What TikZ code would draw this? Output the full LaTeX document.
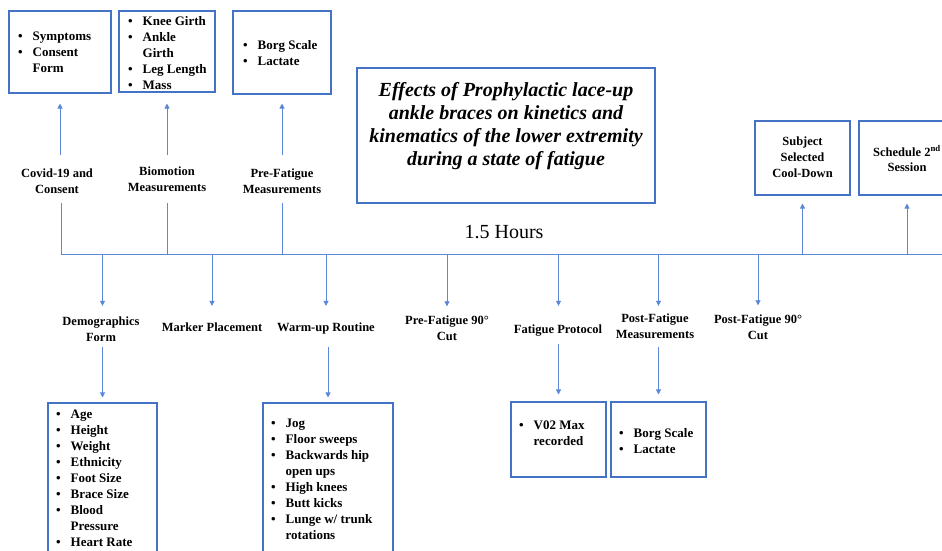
\documentclass[tikz,border=0pt]{standalone}
\usepackage{fontspec}
\setmainfont{Liberation Serif}
\usetikzlibrary{arrows.meta}
\definecolor{boxblue}{HTML}{4472C4}
\definecolor{lineblue}{HTML}{5A87D6}
\newcommand{\bul}{\makebox[14.5pt][l]{\textbullet}}
\newcommand{\ind}{\hspace*{14.5pt}}
\newcommand{\blist}[1]{\begin{tabular}{@{}l@{}}#1\end{tabular}}
\newcommand{\ctr}[1]{\begin{tabular}{@{}c@{}}#1\end{tabular}}
\begin{document}
\begin{tikzpicture}[x=1pt,y=-1pt,
  box/.style={draw=boxblue,line width=1.1pt,inner sep=0pt},
  lsty/.style={inner sep=0pt,anchor=north west,font=\fontsize{13}{16}\selectfont\bfseries},
  lbl/.style={inner sep=0pt,font=\fontsize{12.5}{16}\selectfont\bfseries},
  conn/.style={draw=lineblue,line width=0.8pt},
  arr/.style={conn,-{Triangle[width=5pt,length=5pt]}}]
\useasboundingbox (0,0) rectangle (942,550);
\clip (0,0) rectangle (942,550);
\fill[white] (0,0) rectangle (942,550);

% timeline ends
\coordinate (tlL) at (61,254);
\coordinate (tlR) at (960,254);

% top boxes
\node[box,minimum width=102pt,minimum height=82pt] (b1) at (60,52) {};
\node[lsty] (b1t) at (18,29) {\blist{\bul Symptoms\\\bul Consent\\\ind Form}};
\node[box,minimum width=96pt,minimum height=81pt] (b2) at (167,51.5) {};
\node[lsty] (b2t) at (128,14) {\blist{\bul Knee Girth\\\bul Ankle\\\ind Girth\\\bul Leg Length\\\bul Mass}};
\node[box,minimum width=98pt,minimum height=83pt] (b3) at (282,52.5) {};
\node[lsty] (b3t) at (243,38) {\blist{\bul Borg Scale\\\bul Lactate}};

% title
\node[box,minimum width=298pt,minimum height=135pt] (title) at (506,135.5) {};
\node[inner sep=0pt,font=\fontsize{20}{23}\selectfont\bfseries\itshape] (titlet) at (506,126)
  {\ctr{Effects of Prophylactic lace-up\\ankle braces on kinetics and\\kinematics of the lower extremity\\during a state of fatigue}};

% right boxes
\node[box,lbl,minimum width=95pt,minimum height=74pt] (subj) at (802.5,158) {\ctr{Subject\\Selected\\Cool-Down}};
\node[box,minimum width=96pt,minimum height=74pt] (sched) at (907,158) {};
\node[lbl,font=\fontsize{12.5}{15}\selectfont\bfseries] (schedt) at (907,160.5) {\ctr{Schedule 2\textsuperscript{nd}\\Session}};

% hours
\node[inner sep=0pt,font=\fontsize{20}{24}\selectfont] (hours) at (504,232) {1.5 Hours};

% upper labels
\node[lbl] (covid) at (57,182) {\ctr{Covid-19 and\\Consent}};
\node[lbl] (bio) at (167,180) {\ctr{Biomotion\\Measurements}};
\node[lbl] (prefm) at (282,182) {\ctr{Pre-Fatigue\\Measurements}};

% lower labels
\node[lbl] (demo) at (101,330) {\ctr{Demographics\\Form}};
\node[lbl] (marker) at (212,328) {\ctr{Marker Placement}};
\node[lbl] (warm) at (326,328) {\ctr{Warm-up Routine}};
\node[lbl] (pre90) at (447,329.5) {\ctr{Pre-Fatigue 90°\\Cut}};
\node[lbl] (fatp) at (558,330) {\ctr{Fatigue Protocol}};
\node[lbl] (postm) at (655,327) {\ctr{Post-Fatigue\\Measurements}};
\node[lbl] (post90) at (758,328.5) {\ctr{Post-Fatigue 90°\\Cut}};

% bottom boxes
\node[box,minimum width=109pt,minimum height=157pt] (demob) at (102.5,481.5) {};
\node[lsty] (demot) at (56,407) {\blist{\bul Age\\\bul Height\\\bul Weight\\\bul Ethnicity\\\bul Foot Size\\\bul Brace Size\\\bul Blood\\\ind Pressure\\\bul Heart Rate}};
\node[box,minimum width=130pt,minimum height=157pt] (warmb) at (328,481.5) {};
\node[lsty] (warmt) at (271,416) {\blist{\bul Jog\\\bul Floor sweeps\\\bul Backwards hip\\\ind open ups\\\bul High knees\\\bul Butt kicks\\\bul Lunge w/ trunk\\\ind rotations}};
\node[box,minimum width=95pt,minimum height=75pt] (vob) at (558.5,439.5) {};
\node[lsty] (vot) at (519,418) {\blist{\bul V02 Max\\\ind recorded}};
\node[box,minimum width=95pt,minimum height=75pt] (borgb) at (658.5,439.5) {};
\node[lsty] (borgt) at (619,426) {\blist{\bul Borg Scale\\\bul Lactate}};

% timeline and risers
\draw[conn,shorten <=5pt] (tlL |- covid.south) -- (tlL) -- (tlR);
\draw[conn,shorten <=7pt] (b2.south |- bio.south) -- (b2.south |- tlL);
\draw[conn,shorten <=5pt] (b3.south |- prefm.south) -- (b3.south |- tlL);

% upward arrows
\draw[arr,shorten <=11pt,shorten >=10pt] (b1.south |- covid.north) -- (b1.south);
\draw[arr,shorten <=9pt,shorten >=11pt] (b2.south |- bio.north) -- (b2.south);
\draw[arr,shorten <=11pt,shorten >=9pt] (b3.south |- prefm.north) -- (b3.south);
\draw[arr,shorten >=8pt] (subj.south |- tlL) -- (subj.south);
\draw[arr,shorten >=8pt] (sched.south |- tlL) -- (sched.south);

% downward arrows from timeline
\draw[arr,shorten >=8pt] (demob.north |- tlL) -- (demob.north |- demo.north);
\draw[arr,shorten >=14pt] (marker.north |- tlL) -- (marker.north);
\draw[arr,shorten >=14pt] (warm.north |- tlL) -- (warm.north);
\draw[arr,shorten >=7pt] (pre90.north |- tlL) -- (pre90.north);
\draw[arr,shorten >=16pt] (vob.north |- tlL) -- (vob.north |- fatp.north);
\draw[arr,shorten >=5pt] (borgb.north |- tlL) -- (borgb.north |- postm.north);
\draw[arr,shorten >=7pt] (post90.north |- tlL) -- (post90.north);

% arrows from labels to lower boxes
\draw[arr,shorten <=1pt,shorten >=5pt] (demob.north |- demo.south) -- (demob.north);
\draw[arr,shorten <=11pt,shorten >=5pt] (warmb.north |- warm.south) -- (warmb.north);
\draw[arr,shorten <=6pt,shorten >=7pt] (vob.north |- fatp.south) -- (vob.north);
\draw[arr,shorten <=4pt,shorten >=7pt] (borgb.north |- postm.south) -- (borgb.north);
\end{tikzpicture}
\end{document}
